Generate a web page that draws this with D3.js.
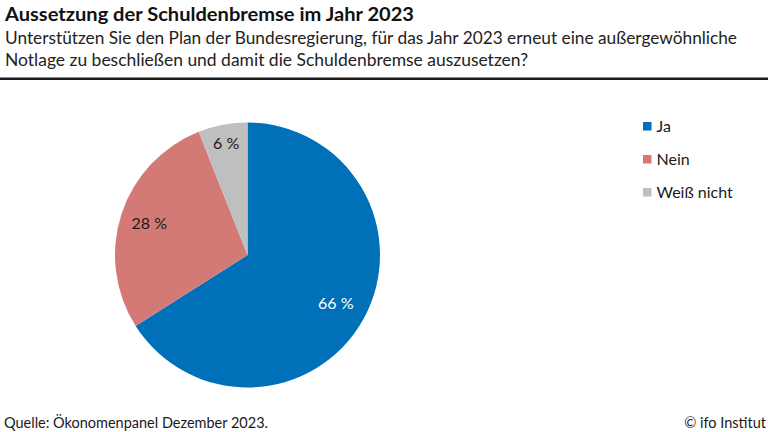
<!DOCTYPE html>
<html>
<head>
<meta charset="utf-8">
<script src="https://cdn.jsdelivr.net/npm/d3@7"></script>
<style>
html, body { margin: 0; padding: 0; background: #fff; }
svg { display: block; font-family: Lato, "Open Sans", sans-serif; }
</style>
</head>
<body>
<svg id="chart" width="768" height="432"></svg>
<script>
const title = "Aussetzung der Schuldenbremse im Jahr 2023";
const subtitleLines = [
  "Unterstützen Sie den Plan der Bundesregierung, für das Jahr 2023 erneut eine außergewöhnliche",
  "Notlage zu beschließen und damit die Schuldenbremse auszusetzen?"
];
const source = "Quelle: Ökonomenpanel Dezember 2023.";
const credit = "© ifo Institut";

const categories = ["Ja", "Nein", "Weiß nicht"];
const values = [66, 28, 6];
const colors = ["#0070B8", "#D47A76", "#BFBFBF"];
const labelColors = ["#ffffff", "#1a1a1a", "#1a1a1a"];

const svg = d3.select("#chart");
const W = 768;

// Title block
svg.append("text").attr("x", 5).attr("y", 21)
  .attr("font-size", 18.5).attr("font-weight", 700).attr("fill", "#111")
  .attr("textLength", 409).attr("lengthAdjust", "spacingAndGlyphs")
  .text(title);

const subWidths = [732, 523];
subtitleLines.forEach((t, i) => {
  svg.append("text").attr("x", 5).attr("y", 44 + i * 21.5)
    .attr("font-size", 17).attr("fill", "#222")
    .attr("textLength", subWidths[i]).attr("lengthAdjust", "spacingAndGlyphs")
    .text(t);
});

svg.append("rect").attr("x", 0).attr("y", 77.5).attr("width", W).attr("height", 2.5)
  .attr("fill", "#1a1a1a");

// Pie
const cx = 247.5, cy = 255, R = 132.5;
const pie = d3.pie().sort(null).value(d => d)(values);
const arc = d3.arc().innerRadius(0).outerRadius(R);
const g = svg.append("g").attr("transform", `translate(${cx},${cy})`);
g.selectAll("path.slice").data(pie).join("path")
  .attr("class", "slice")
  .attr("d", arc)
  .attr("fill", (d, i) => colors[i]);

const labelRadius = d => {
  const span = d.endAngle - d.startAngle;
  return span < 0.5 ? R * 0.86 : (span < 2 ? R * 0.78 : R * 0.76);
};
g.selectAll("text.lbl").data(pie).join("text")
  .attr("class", "lbl")
  .attr("transform", d => {
    const r = labelRadius(d);
    const c = d3.arc().innerRadius(r).outerRadius(r).centroid(d);
    return `translate(${c[0]},${c[1]})`;
  })
  .attr("text-anchor", "middle")
  .attr("dy", "0.36em")
  .attr("font-size", 16)
  .attr("fill", (d, i) => labelColors[i])
  .text(d => d.data + " %");

// Legend
const legY = d3.scalePoint().domain(categories).range([126, 192]);
const leg = svg.append("g");
categories.forEach((c, i) => {
  leg.append("rect").attr("x", 643).attr("y", legY(c) - 4).attr("width", 8.5).attr("height", 8.5)
    .attr("fill", colors[i]);
  leg.append("text").attr("x", 656.5).attr("y", legY(c)).attr("dy", "0.36em")
    .attr("font-size", 16).attr("fill", "#1a1a1a")
    .text(c);
});

// Footer
svg.append("text").attr("x", 4).attr("y", 428)
  .attr("font-size", 14.5).attr("fill", "#1a1a1a")
  .attr("textLength", 264).attr("lengthAdjust", "spacingAndGlyphs")
  .text(source);
svg.append("text").attr("x", 766).attr("y", 428).attr("text-anchor", "end")
  .attr("font-size", 14.5).attr("fill", "#1a1a1a")
  .text(credit);
</script>
</body>
</html>
